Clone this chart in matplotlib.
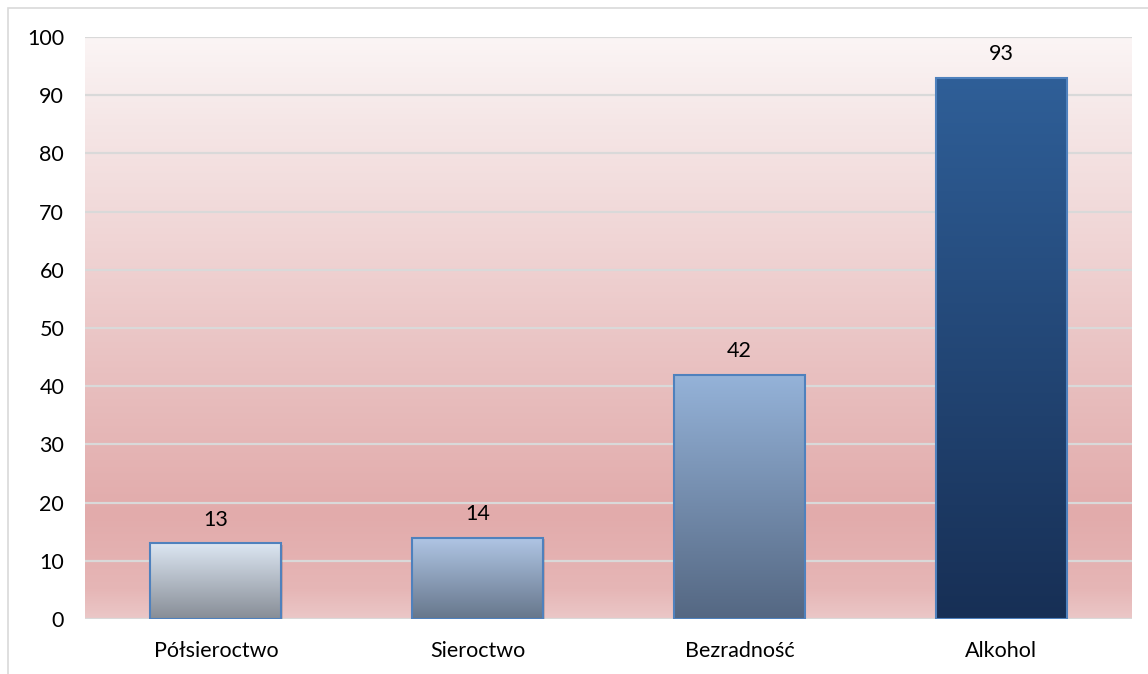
import numpy as np
import matplotlib
matplotlib.use("Agg")
import matplotlib.pyplot as plt
from matplotlib.colors import LinearSegmentedColormap
from matplotlib.patches import Rectangle

categories = ["Półsieroctwo", "Sieroctwo", "Bezradność", "Alkohol"]
values = [13, 14, 42, 93]
y_ticks = [0, 10, 20, 30, 40, 50, 60, 70, 80, 90, 100]

# per-bar gradient colours (top, bottom)
bar_tops = ["#dce6f2", "#b0c6e5", "#95b3d9", "#2f5f98"]
bar_bottoms = ["#878d96", "#66768b", "#546782", "#172f55"]

plt.rcParams["font.family"] = ["Lato", "DejaVu Sans"]

W, H = 1148, 674
fig = plt.figure(figsize=(W / 100, H / 100), dpi=100)

# outer chart border (clipped at right and bottom)
fig.patches.append(Rectangle((8 / W, -0.1), 1.2, 1 - 8 / H + 0.1, transform=fig.transFigure,
                             fill=False, edgecolor="#d9d9d9", linewidth=1.2))

ax = fig.add_axes([85 / W, (H - 619) / H, 1047 / W, (619 - 37) / H])
ax.set_xlim(-0.5, len(categories) - 0.5)
ax.set_ylim(0, 100)

# background gradient of plot area (bottom -> top)
bg = LinearSegmentedColormap.from_list("bg", [
    (0.00, "#ebc7c7"),
    (0.05, "#e6b6b6"),
    (0.18, "#e2abab"),
    (0.40, "#e8bebe"),
    (0.65, "#f0d5d5"),
    (0.85, "#f5e6e6"),
    (1.00, "#fbf5f5"),
])
grad = np.linspace(0, 1, 256).reshape(-1, 1)
ax.imshow(grad, extent=[0, 1, 0, 1], transform=ax.transAxes, origin="lower",
          aspect="auto", cmap=bg, zorder=0)

for t in y_ticks:
    ax.axhline(t, color="#d9d9d9", linewidth=1.6, zorder=1)

x = np.arange(len(categories))
bars = ax.bar(x, values, width=0.5, facecolor="none", edgecolor="#4f81bd",
              linewidth=1.5, zorder=3)

for b, top, bot in zip(bars, bar_tops, bar_bottoms):
    cm = LinearSegmentedColormap.from_list("b", [bot, top])
    x0, w, h = b.get_x(), b.get_width(), b.get_height()
    # soft shadow
    ax.add_patch(Rectangle((x0 + 0.006, -0.3), w, h, facecolor="#000000", alpha=0.12,
                           edgecolor="none", zorder=2))
    im = ax.imshow(grad, extent=[x0, x0 + w, 0, h], origin="lower", aspect="auto",
                   cmap=cm, zorder=2.5)
    im.set_clip_path(b)

for xi, v in zip(x, values):
    ax.annotate(str(v), (xi, v), xytext=(0, 17), textcoords="offset points",
                ha="center", va="center", fontsize=15.5, color="#000000")

ax.set_xlim(-0.5, len(categories) - 0.5)
ax.set_ylim(0, 100)
ax.set_yticks(y_ticks)
ax.set_xticks(x)
ax.set_xticklabels(categories)
ax.tick_params(axis="both", length=0, labelsize=15.5, colors="#000000")
ax.tick_params(axis="y", pad=15)
ax.tick_params(axis="x", pad=16)
for s in ax.spines.values():
    s.set_visible(False)

fig.savefig("out.png", dpi=100)
